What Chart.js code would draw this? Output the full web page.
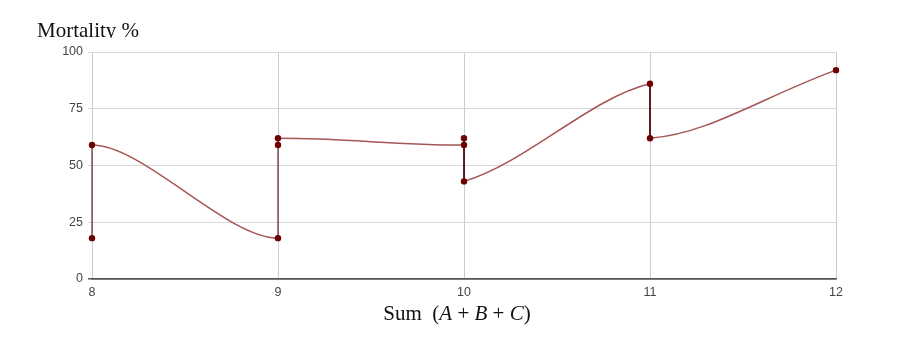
<!DOCTYPE html>
<html>
<head>
<meta charset="utf-8">
<script src="https://cdn.jsdelivr.net/npm/chart.js@4.4.0/dist/chart.umd.min.js"></script>
<style>
  body { margin: 0; background: #fff; }
  #wrap { position: relative; width: 900px; height: 340px; }
  .ttl { position: absolute; font-family: "Liberation Serif", serif; font-size: 21px; line-height: 28px; color: #111; white-space: nowrap; }
  #ytitle { left: 37px; top: 16px; height: 22px; overflow: hidden; }
  #xtitle { left: 0; top: 299px; width: 914px; text-align: center; }
  #xtitle i { font-style: italic; }
</style>
</head>
<body>
<div id="wrap">
  <canvas id="mortChart" width="900" height="340"></canvas>
  <div class="ttl" id="ytitle">Mortality %</div>
  <div class="ttl" id="xtitle">Sum&nbsp; (<i>A</i> + <i>B</i> + <i>C</i>)</div>
</div>
<script>
// Sum (A+B+C) vs mortality, points in drawing order
const sums = [8, 8, 9, 9, 9, 10, 10, 10, 11, 11, 12];
const mortality = [18, 59, 18, 59, 62, 59, 62, 43, 86, 62, 92];
const yTicks = [0, 25, 50, 75, 100];

const curveColor = '#a65555';
const jumpColor = '#4a0000';
const pointColor = '#6e0000';

const pts = sums.map((x, i) => ({ x: x, y: mortality[i] }));
const sameX = ctx => ctx.p0.parsed.x === ctx.p1.parsed.x;

const ctx = document.getElementById('mortChart');

new Chart(ctx, {
  type: 'line',

  data: {
    datasets: [{
      // smooth pieces between sums
      data: pts,
      tension: 0.4,
      borderWidth: 1.5,
      borderColor: curveColor,
      pointRadius: 3.2,
      pointBackgroundColor: pointColor,
      pointBorderColor: pointColor,
      pointBorderWidth: 0,
      clip: false,
      segment: {
        borderColor: c => sameX(c) ? 'rgba(0,0,0,0)' : curveColor
      }
    }, {
      // vertical jumps at the same sum
      data: pts,
      tension: 0,
      borderWidth: 1,
      borderColor: jumpColor,
      pointRadius: 0,
      clip: false,
      segment: {
        borderColor: c => sameX(c) ? jumpColor : 'rgba(0,0,0,0)'
      }
    }]
  },

  options: {
    responsive: false,
    animation: false,
    devicePixelRatio: 1,
    layout: {
      padding: { top: 52, right: 64, left: 0, bottom: 0 }
    },

    plugins: {
      legend: { display: false },
      tooltip: { enabled: false }
    },

    scales: {
      x: {
        type: 'linear',
        min: 8,
        max: 12,
        afterFit: s => { s.height = 61; },
        ticks: {
          stepSize: 1,
          padding: 6,
          color: '#444',
          font: { family: 'Liberation Sans', size: 12.5 }
        },
        grid: {
          color: '#cccccc',
          drawTicks: false
        },
        border: { color: '#555', width: 1.5 }
      },

      y: {
        min: 0,
        max: 100,
        afterFit: s => { s.width = 92; },
        afterBuildTicks: s => { s.ticks = yTicks.map(v => ({ value: v })); },
        ticks: {
          padding: 5,
          color: '#444',
          font: { family: 'Liberation Sans', size: 12.5 }
        },
        grid: {
          color: c => c.tick && c.tick.value === 0 ? '#555' : '#d9d9d9',
          lineWidth: c => c.tick && c.tick.value === 0 ? 1.5 : 1,
          tickLength: 4
        },
        border: { display: false }
      }
    }
  }
});
</script>
</body>
</html>
